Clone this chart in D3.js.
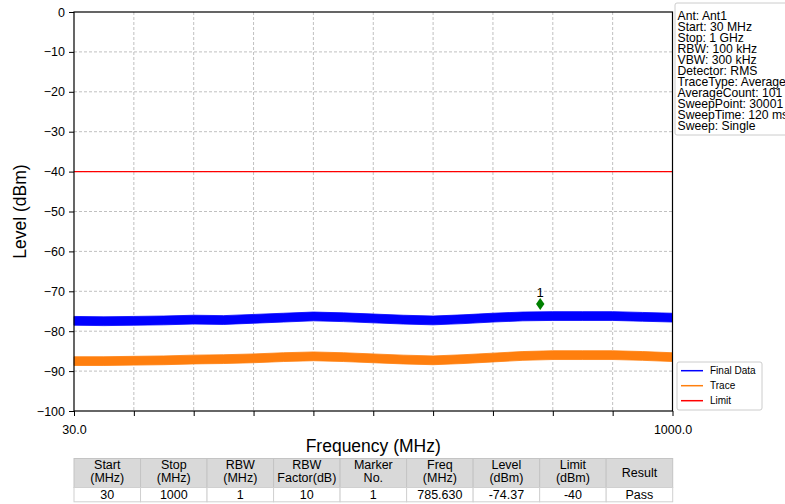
<!DOCTYPE html>
<html>
<head>
<meta charset="utf-8">
<script src="https://cdn.jsdelivr.net/npm/d3@7"></script>
<style>
  html, body { margin: 0; padding: 0; background: #fff; }
  svg { display: block; font-family: "Liberation Sans", Arial, sans-serif; }
</style>
</head>
<body>
<svg id="chart" width="785" height="504"></svg>
<script>
// ---------------- data ----------------
const freqMHz   = [30, 78.5, 127, 175.5, 224, 272.5, 321, 369.5, 418, 466.5, 515, 563.5, 612, 660.5, 709, 757.5, 806, 854.5, 903, 951.5, 1000];
const finalData = [-77.4, -77.5, -77.4, -77.3, -77.1, -77.2, -76.9, -76.6, -76.3, -76.5, -76.8, -77.1, -77.3, -77.0, -76.6, -76.3, -76.2, -76.2, -76.2, -76.4, -76.6];
const traceData = [-87.5, -87.5, -87.4, -87.3, -87.1, -87.0, -86.8, -86.5, -86.3, -86.5, -86.8, -87.1, -87.3, -87.0, -86.6, -86.2, -86.0, -86.0, -86.0, -86.2, -86.5];
const noiseHalfWidthDb = 1.1;
const limitDbm = -40;
const xDomain = [30, 1000];
const yDomain = [-100, 0];
const xTicks = [30, 127, 224, 321, 418, 515, 612, 709, 806, 903, 1000];
const xTickLabels = ["30.0", "", "", "", "", "", "", "", "", "", "1000.0"];
const yTicks = [0, -10, -20, -30, -40, -50, -60, -70, -80, -90, -100];
const markerFreq = 785.630;
const markerLevel = -74.37;
const markerLabel = "1";
const infoLines = ["Ant: Ant1", "Start: 30 MHz", "Stop: 1 GHz", "RBW: 100 kHz", "VBW: 300 kHz",
  "Detector: RMS", "TraceType: Average", "AverageCount: 101", "SweepPoint: 30001",
  "SweepTime: 120 ms", "Sweep: Single"];
const legendNames = ["Final Data", "Trace", "Limit"];
const tableHeaders = [["Start", "(MHz)"], ["Stop", "(MHz)"], ["RBW", "(MHz)"], ["RBW", "Factor(dB)"],
  ["Marker", "No."], ["Freq", "(MHz)"], ["Level", "(dBm)"], ["Limit", "(dBm)"], ["Result"]];
const tableRow = ["30", "1000", "1", "10", "1", "785.630", "-74.37", "-40", "Pass"];

// ---------------- layout ----------------
const svg = d3.select("#chart");
const W = 785, H = 504;
const m = { left: 74, right: 672.5, top: 12, bottom: 411 };
const colors = { final: "#0000ff", trace: "#ff7f0e", limit: "#ff0000", marker: "#008000" };

svg.append("rect").attr("width", W).attr("height", H).attr("fill", "#fff");

const x = d3.scaleLinear().domain(xDomain).range([m.left, m.right]);
const y = d3.scaleLinear().domain(yDomain).range([m.bottom, m.top]);

// grid
const grid = svg.append("g");
grid.selectAll("line.gy").data(yTicks.filter(d => d !== 0 && d !== -100)).join("line")
  .attr("x1", m.left).attr("x2", m.right).attr("y1", d => y(d)).attr("y2", d => y(d))
  .attr("stroke", "#b0b0b0").attr("stroke-width", 0.8).attr("stroke-dasharray", "3,2");
grid.selectAll("line.gx").data(xTicks.slice(1, -1)).join("line")
  .attr("y1", m.top).attr("y2", m.bottom).attr("x1", d => x(d)).attr("x2", d => x(d))
  .attr("stroke", "#b0b0b0").attr("stroke-width", 0.8).attr("stroke-dasharray", "3,2");

// traces as noise bands
const pts = (arr) => freqMHz.map((f, i) => ({ f, v: arr[i] }));
const band = d3.area().x(d => x(d.f))
  .y0(d => y(d.v - noiseHalfWidthDb)).y1(d => y(d.v + noiseHalfWidthDb));
[[finalData, colors.final], [traceData, colors.trace]].forEach(([arr, c]) => {
  svg.append("path").datum(pts(arr)).attr("d", band).attr("fill", c).attr("stroke", c)
    .attr("stroke-width", 0.8).attr("stroke-linejoin", "round");
});

// limit line
svg.append("line").attr("x1", m.left).attr("x2", m.right)
  .attr("y1", y(limitDbm)).attr("y2", y(limitDbm))
  .attr("stroke", colors.limit).attr("stroke-width", 1.3);

// marker
const mx = x(markerFreq), my = y(markerLevel) - 4.7;
svg.append("path").attr("d", "M0,-6L4.2,0L0,6L-4.2,0Z")
  .attr("transform", `translate(${mx},${my})`).attr("fill", colors.marker);
svg.append("text").attr("x", mx).attr("y", my - 7.5).attr("text-anchor", "middle")
  .attr("font-size", 13).attr("fill", "#000").text(markerLabel);

// axes
const yAxis = d3.axisLeft(y).tickValues(yTicks).tickSize(5).tickPadding(4)
  .tickFormat(d => d < 0 ? "\u2212" + Math.abs(d) : String(d));
const gy = svg.append("g").attr("transform", `translate(${m.left},0)`).call(yAxis);
const xAxis = d3.axisBottom(x).tickValues(xTicks).tickSize(5).tickPadding(6)
  .tickFormat((d, i) => xTickLabels[i]);
const gx = svg.append("g").attr("transform", `translate(0,${m.bottom})`).call(xAxis);
[gy, gx].forEach(g => {
  g.select(".domain").remove();
  g.selectAll(".tick line").attr("stroke", "#000").attr("stroke-width", 1);
  g.selectAll(".tick text").attr("font-size", 12.5).attr("fill", "#000")
    .attr("font-family", "Liberation Sans, Arial, sans-serif");
});
gx.selectAll(".tick text").attr("dy", "0.95em");

// frame
svg.append("rect").attr("x", m.left).attr("y", m.top)
  .attr("width", m.right - m.left).attr("height", m.bottom - m.top)
  .attr("fill", "none").attr("stroke", "#000").attr("stroke-width", 1.2);

// axis titles
svg.append("text").attr("x", (m.left + m.right) / 2).attr("y", 452).attr("text-anchor", "middle")
  .attr("font-size", 17.5).attr("fill", "#000").text("Frequency (MHz)");
svg.append("text").attr("transform", `translate(26,${(m.top + m.bottom) / 2}) rotate(-90)`)
  .attr("text-anchor", "middle").attr("font-size", 17.5).attr("fill", "#000").text("Level (dBm)");

// info box
const info = svg.append("g");
info.append("rect").attr("x", 675).attr("y", 3).attr("width", 130).attr("height", 132)
  .attr("rx", 2).attr("fill", "#fff").attr("stroke", "#cccccc").attr("stroke-width", 1);
info.selectAll("text").data(infoLines).join("text")
  .attr("x", 677.5).attr("y", (d, i) => 20 + i * 11).attr("font-size", 12.2).attr("fill", "#000")
  .text(d => d);

// legend
const lg = svg.append("g");
lg.append("rect").attr("x", 677).attr("y", 362).attr("width", 85).attr("height", 48)
  .attr("rx", 2).attr("fill", "#fff").attr("stroke", "#cccccc");
const legColors = [colors.final, colors.trace, colors.limit];
legendNames.forEach((n, i) => {
  const ly = 370.7 + i * 15;
  lg.append("line").attr("x1", 681).attr("x2", 703).attr("y1", ly).attr("y2", ly)
    .attr("stroke", legColors[i]).attr("stroke-width", 1.5);
  lg.append("text").attr("x", 710).attr("y", ly + 3.5).attr("font-size", 10).attr("fill", "#000").text(n);
});

// table
const tX0 = 74, tX1 = 672.7, hdrTop = 458.5, hdrBot = 487.5, rowBot = 501.8;
const colW = (tX1 - tX0) / tableHeaders.length;
const tg = svg.append("g");
tableHeaders.forEach((h, i) => {
  const cx = tX0 + i * colW;
  tg.append("rect").attr("x", cx).attr("y", hdrTop).attr("width", colW).attr("height", hdrBot - hdrTop)
    .attr("fill", "#d9d9d9").attr("stroke", "#c4c4c4").attr("stroke-width", 1);
  tg.append("rect").attr("x", cx).attr("y", hdrBot).attr("width", colW).attr("height", rowBot - hdrBot)
    .attr("fill", "#fff").attr("stroke", "#d0d0d0").attr("stroke-width", 1);
  const t = tg.append("text").attr("text-anchor", "middle").attr("font-size", 12.5).attr("fill", "#000");
  if (h.length === 2) {
    t.append("tspan").attr("x", cx + colW / 2).attr("y", 468.5).text(h[0]);
    t.append("tspan").attr("x", cx + colW / 2).attr("y", 482).text(h[1]);
  } else {
    t.append("tspan").attr("x", cx + colW / 2).attr("y", 476.5).text(h[0]);
  }
  tg.append("text").attr("x", cx + colW / 2).attr("y", 498.8).attr("text-anchor", "middle")
    .attr("font-size", 12.5).attr("fill", "#000").text(tableRow[i]);
});
</script>
</body>
</html>
